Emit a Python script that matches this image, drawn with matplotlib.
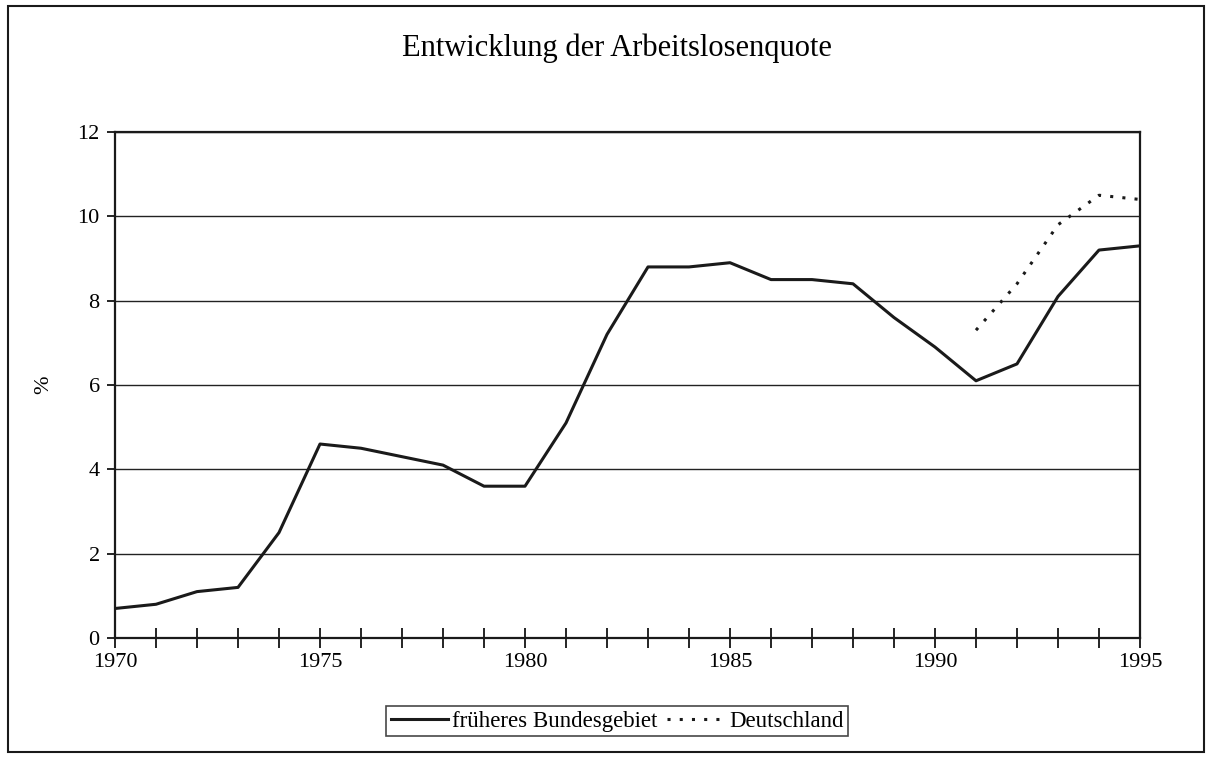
import matplotlib
matplotlib.use("Agg")
import matplotlib.pyplot as plt
from matplotlib.patches import Rectangle

plt.rcParams['font.family'] = ['Liberation Serif', 'DejaVu Serif']

years = list(range(1970, 1996))
frueheres = [0.7, 0.8, 1.1, 1.2, 2.5, 4.6, 4.5, 4.3, 4.1, 3.6, 3.6, 5.1, 7.2,
             8.8, 8.8, 8.9, 8.5, 8.5, 8.4, 7.6, 6.9, 6.1, 6.5, 8.1, 9.2, 9.3]
de_years = [1991, 1992, 1993, 1994, 1995]
deutschland = [7.3, 8.4, 9.8, 10.5, 10.4]
y_ticks = [0, 2, 4, 6, 8, 10, 12]
x_label_years = [1970, 1975, 1980, 1985, 1990, 1995]

fig = plt.figure(figsize=(12.09, 7.59), dpi=100)
W, H = 1209, 759
ax = fig.add_axes([115 / W, 1 - 638 / H, (1140 - 115) / W, (638 - 132) / H])

ax.plot(years, frueheres, color='#1a1a1a', lw=2.2, label='früheres Bundesgebiet')
ax.plot(de_years, deutschland, color='#1a1a1a', lw=2.2, linestyle=(0, (1, 3)),
        label='Deutschland')

ax.set_xlim(1970, 1995)
ax.set_ylim(0, 12)
ax.set_yticks(y_ticks)
ax.set_xticks(years)
ax.set_xticklabels([str(y) if y in x_label_years else '' for y in years])
ax.tick_params(axis='x', direction='inout', length=14, width=1.2, pad=4, labelsize=16)
ax.tick_params(axis='y', direction='out', length=6, width=1.2, pad=5, labelsize=16)
ax.yaxis.grid(True, color='#222222', lw=1)
ax.set_axisbelow(True)
for s in ax.spines.values():
    s.set_linewidth(1.6)
    s.set_color('#1a1a1a')

ax.set_ylabel('%', fontsize=16)
ax.yaxis.set_label_coords(-62 / 1025, 0.5)
fig.text(617 / W, 1 - 48 / H, 'Entwicklung der Arbeitslosenquote', ha='center',
         va='center', fontsize=22)

leg = fig.legend(loc='center', bbox_to_anchor=(617 / W, 1 - 721 / H), ncol=2,
                 fontsize=16.5, frameon=True, fancybox=False, handlelength=2.5,
                 handletextpad=0.2, columnspacing=0.4, borderpad=0.2,
                 borderaxespad=0)
leg.get_frame().set_edgecolor('#1a1a1a')
leg.get_frame().set_linewidth(1.2)

fig.patches.append(Rectangle((8 / W, 1 - 752 / H), (1204 - 8) / W, (752 - 6) / H,
                             transform=fig.transFigure, fill=False,
                             edgecolor='#1a1a1a', lw=1.5))

fig.savefig('out.png', dpi=100)
